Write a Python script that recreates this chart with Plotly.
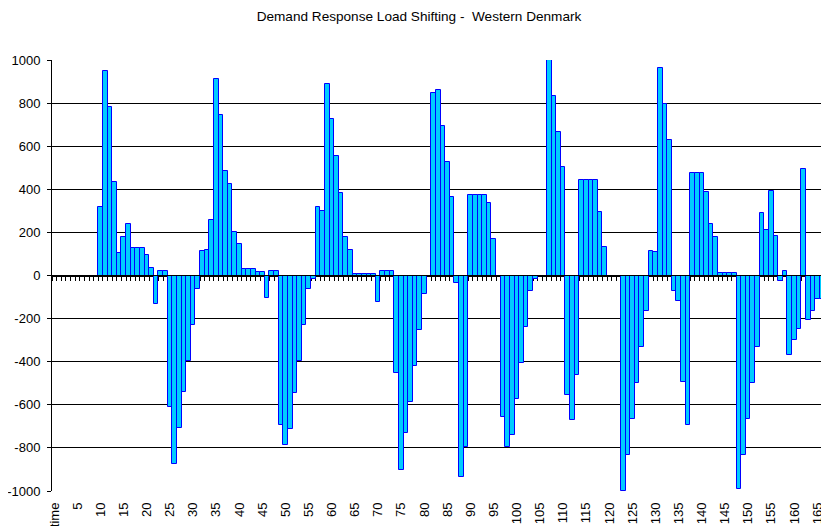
import plotly.graph_objects as go

# ---- data ----
categories = ["time"] + [str(i) for i in range(1, 168)]

values = [
    0,                                              # time
    0, 0, 0, 0, 0, 0, 0, 0, 0,                      # 1-9
    320, 949, 782, 434, 103, 180, 239, 126, 126, 126,   # 10-19
    95, 33, -130, 23, 23, -612, -873, -707, -539, -395,  # 20-29
    -228, -61, 115, 118, 256, 912, 746, 486, 426, 204,   # 30-39
    146, 30, 30, 30, 14, 14, -104, 19, 19, -693,         # 40-49
    -785, -710, -545, -396, -228, -61, -14, 320, 301, 890,  # 50-59
    724, 556, 381, 180, 118, 9, 9, 9, 9, 9,              # 60-69
    -124, 23, 23, 23, -454, -901, -733, -586, -420, -255,  # 70-79
    -85, 0, 848, 862, 695, 528, 362, -34, -937, -797,    # 80-89
    374, 374, 374, 374, 336, 169, 0, -657, -797, -741,   # 90-99
    -573, -407, -241, -73, -17, 0, 0, 1000, 834, 668,    # 100-109
    502, -553, -671, -463, 441, 441, 441, 441, 294, 131,  # 110-119
    0, 0, 0, -1000, -834, -667, -500, -333, -166, 113,   # 120-129
    107, 963, 796, 631, -71, -120, -496, -693, 476, 476,  # 130-139
    476, 387, 241, 177, 11, 11, 11, 11, -991, -834,      # 140-149
    -667, -500, -333, 289, 211, 390, 183, -26, 20, -371,  # 150-159
    -297, -250, 494, -207, -166, -107, -107, -107,       # 160-167
]

x_tick_labels = ["time"] + [str(i) for i in range(5, 166, 5)]
y_tick_values = [-1000, -800, -600, -400, -200, 0, 200, 400, 600, 800, 1000]
y_tick_text = [str(v) for v in y_tick_values]

title_text = "Demand Response Load Shifting -  Western Denmark"

# ---- figure ----
FONT = "Liberation Sans, Arial, sans-serif"
n = len(categories)

# the page body has an 8px default margin, so the figure is sized to fit
W, H = 821, 518

fig = go.Figure()
fig.add_trace(go.Bar(
    x=categories, y=values,
    marker=dict(color="#00CCFF", line=dict(color="#0000FF", width=1)),
    xaxis="x", yaxis="y", showlegend=False,
))
# helper (empty) trace so the tick axis at zero is rendered
fig.add_trace(go.Scatter(x=[], y=[], xaxis="x2", yaxis="y",
                         showlegend=False, hoverinfo="skip"))

fig.update_layout(
    template="none",
    width=W, height=H,
    margin=dict(l=44, r=0, t=52, b=35, autoexpand=False),
    paper_bgcolor="white", plot_bgcolor="white",
    bargap=0,
    showlegend=False,
    font=dict(family=FONT, size=13, color="black"),
    title=dict(text=title_text, x=411 / W, xanchor="center", xref="container",
               y=1 - 8 / H, yanchor="middle", yref="container",
               font=dict(family=FONT, size=13.6, color="black")),
    xaxis=dict(
        type="category", categoryorder="array", categoryarray=categories,
        range=[-0.5, n - 0.5], automargin=False,
        tickmode="array", tickvals=x_tick_labels, ticktext=x_tick_labels,
        tickangle=-90, ticks="", showline=False, showgrid=False,
        zeroline=False, ticklabelstandoff=8,
        tickfont=dict(family=FONT, size=13, color="black"),
    ),
    xaxis2=dict(
        overlaying="x", anchor="free", position=0.5, side="bottom",
        type="linear", range=[-0.5, n - 0.5], automargin=False,
        tickmode="linear", tick0=0.5, dtick=1,
        ticks="outside", ticklen=4, tickwidth=1, tickcolor="black",
        showticklabels=False, showline=True, linecolor="black", linewidth=1,
        showgrid=False, zeroline=False, layer="below traces",
    ),
    yaxis=dict(
        range=[-1000, 1000], automargin=False,
        tickmode="array", tickvals=y_tick_values, ticktext=y_tick_text,
        showgrid=True, gridcolor="black", gridwidth=1,
        zeroline=False, showline=True, linecolor="black", linewidth=1,
        ticks="outside", ticklen=4, tickwidth=1, tickcolor="black",
        ticklabelstandoff=4,
        tickfont=dict(family=FONT, size=13, color="black"),
    ),
    shapes=[dict(type="line", xref="paper", x0=0, x1=1, yref="y", y0=0, y1=0,
                 line=dict(color="black", width=1), layer="above")],
)

fig.write_html("out.html")
